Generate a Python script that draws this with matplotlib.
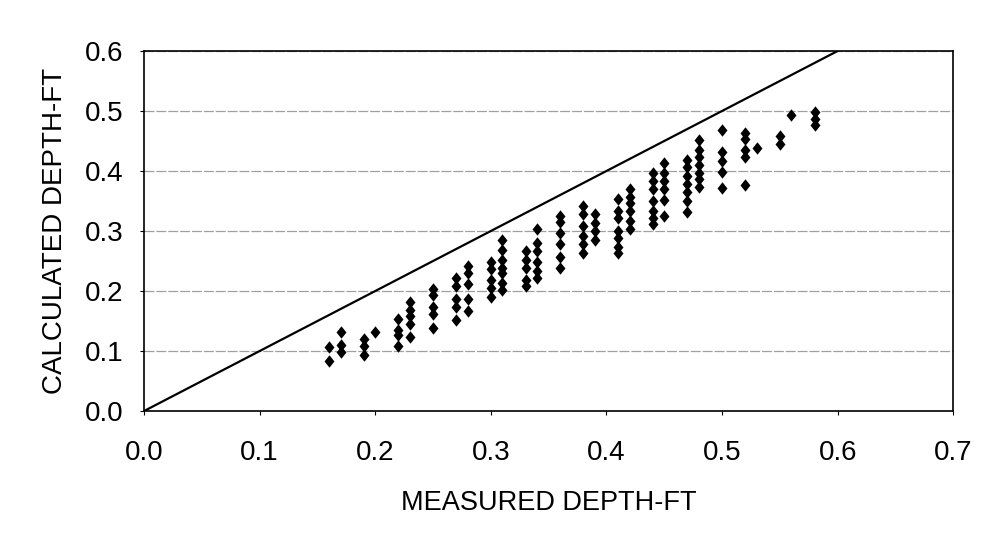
import numpy as np
import matplotlib.pyplot as plt

plt.rcParams['font.family'] = ['Liberation Sans', 'DejaVu Sans']

# measured depth (ft) of each column of points
measured = [0.16, 0.17, 0.19, 0.20, 0.22, 0.23, 0.25, 0.27, 0.28, 0.30,
            0.31, 0.33, 0.34, 0.36, 0.38, 0.39, 0.41, 0.42, 0.44, 0.45,
            0.47, 0.48, 0.50, 0.52, 0.53, 0.55, 0.56, 0.58]

# calculated depths (ft) read for each measured depth
calculated = [
    [0.106, 0.084],
    [0.132, 0.110, 0.099],
    [0.120, 0.109, 0.094],
    [0.131],
    [0.154, 0.135, 0.126, 0.109],
    [0.182, 0.169, 0.159, 0.145, 0.124],
    [0.204, 0.193, 0.174, 0.162, 0.138],
    [0.222, 0.208, 0.187, 0.173, 0.152],
    [0.241, 0.230, 0.211, 0.187, 0.167],
    [0.248, 0.236, 0.219, 0.205, 0.190],
    [0.285, 0.269, 0.251, 0.239, 0.230, 0.214, 0.201],
    [0.266, 0.252, 0.239, 0.219, 0.209],
    [0.303, 0.280, 0.266, 0.249, 0.233, 0.222],
    [0.325, 0.315, 0.296, 0.279, 0.257, 0.239],
    [0.341, 0.329, 0.308, 0.291, 0.278, 0.264],
    [0.329, 0.314, 0.300, 0.285],
    [0.353, 0.333, 0.322, 0.300, 0.289, 0.273, 0.264],
    [0.370, 0.357, 0.347, 0.333, 0.317, 0.304],
    [0.396, 0.383, 0.370, 0.350, 0.333, 0.322, 0.312],
    [0.414, 0.396, 0.383, 0.370, 0.351, 0.325],
    [0.418, 0.406, 0.391, 0.378, 0.365, 0.350, 0.331],
    [0.452, 0.435, 0.424, 0.410, 0.397, 0.387, 0.374],
    [0.469, 0.431, 0.417, 0.399, 0.372],
    [0.464, 0.454, 0.435, 0.424, 0.376],
    [0.439],
    [0.458, 0.445],
    [0.494],
    [0.498, 0.487, 0.477],
]

# line of perfect agreement
line_x = [0.0, 0.6]

xs = []
ys = []
for m, vals in zip(measured, calculated):
    for v in vals:
        xs.append(m)
        ys.append(v)

# slightly tall diamond, like the original marker
diamond = [(0, 1), (0.8, 0), (0, -1), (-0.8, 0), (0, 1)]

fig = plt.figure(figsize=(9.93, 5.54), dpi=100)
ax = fig.add_axes([0.145, 0.258, 0.815, 0.65])

ax.grid(axis='y', color='#a0a0a0', linewidth=0.9, linestyle=(0, (8, 1.5)))
ax.set_axisbelow(True)
ax.plot(line_x, line_x, color='black', linewidth=1.6)
ax.scatter(xs, ys, marker=diamond, s=80, color='black', linewidths=0, zorder=3)

ax.set_xlim(0, 0.7)
ax.set_ylim(0, 0.6)
ax.set_xticks(np.arange(0, 0.71, 0.1))
ax.set_yticks(np.arange(0, 0.61, 0.1))
ax.xaxis.set_major_formatter(plt.FormatStrFormatter('%.1f'))
ax.yaxis.set_major_formatter(plt.FormatStrFormatter('%.1f'))
ax.tick_params(labelsize=20, length=3, color='black')
ax.tick_params(axis='x', pad=18)
ax.tick_params(axis='y', pad=12)
for sp in ax.spines.values():
    sp.set_color('black')
    sp.set_linewidth(1.2)

ax.set_xlabel('MEASURED DEPTH-FT', fontsize=19.5, labelpad=17)
ax.set_ylabel('CALCULATED DEPTH-FT', fontsize=20, labelpad=12)

fig.savefig('out.png', dpi=100)
